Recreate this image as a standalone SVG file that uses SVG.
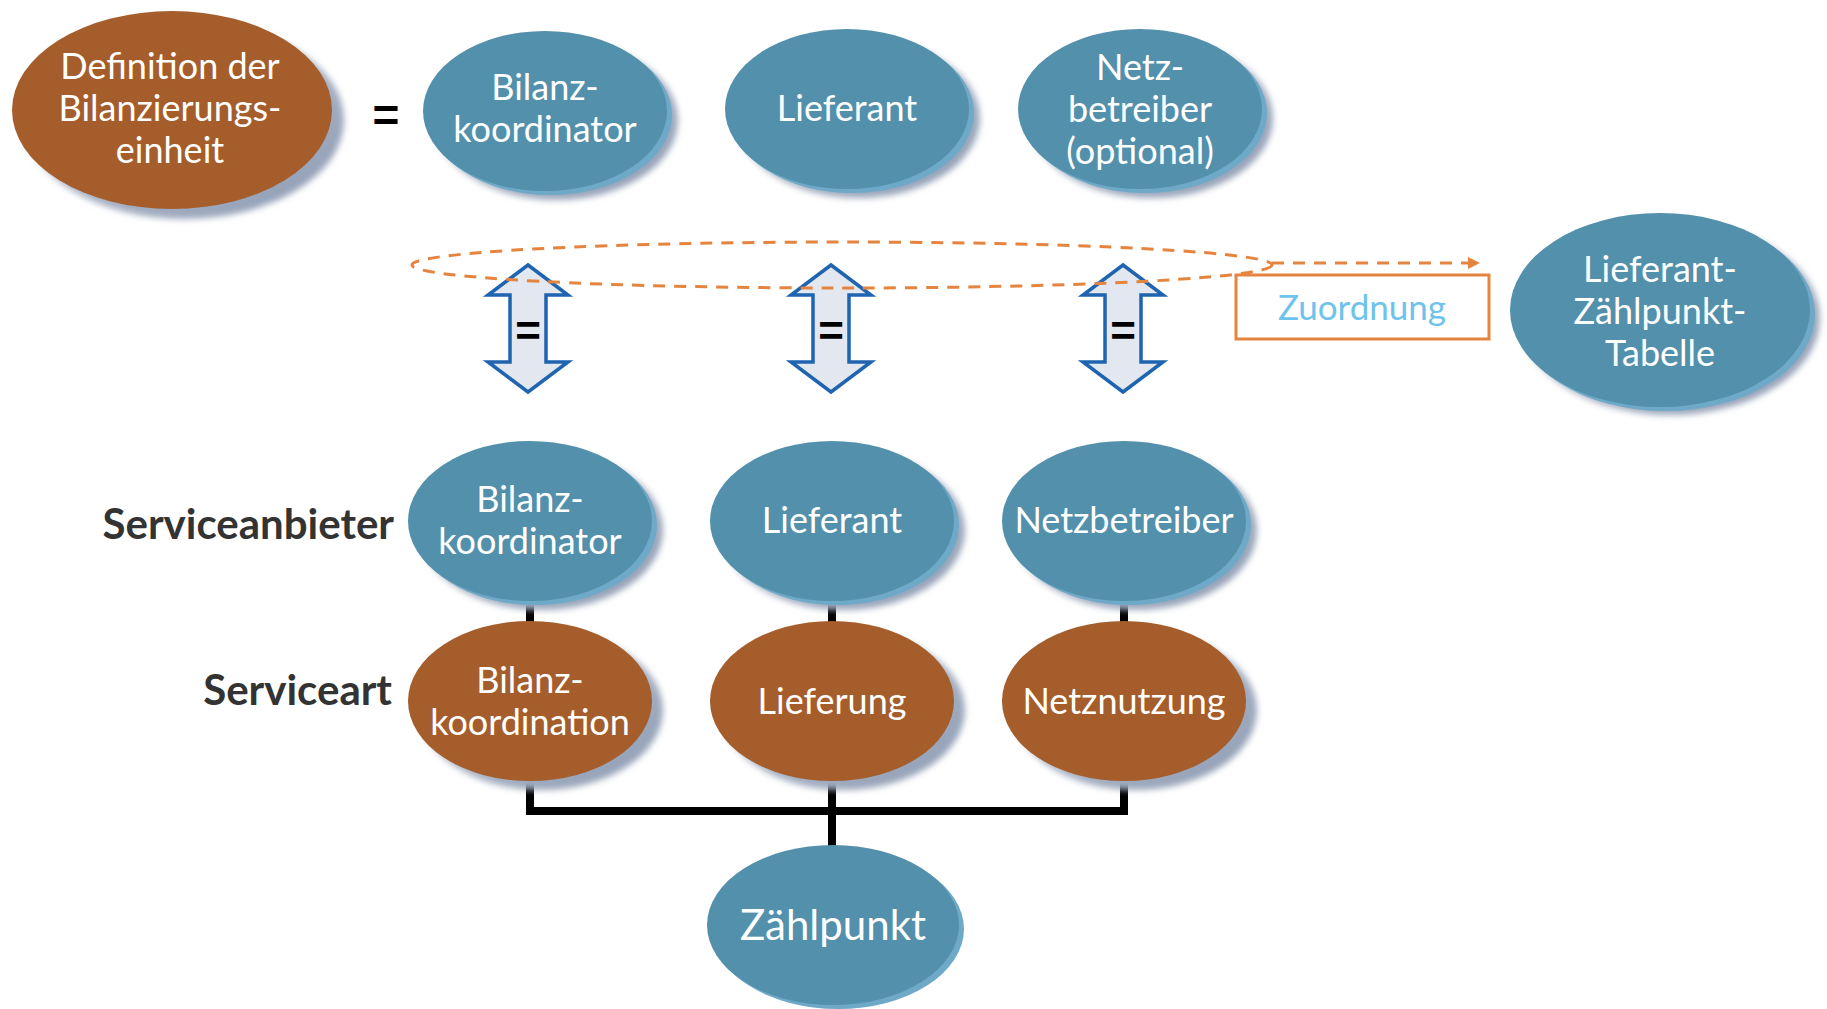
<svg xmlns="http://www.w3.org/2000/svg" width="1827" height="1009" viewBox="0 0 1827 1009">
<defs>
<style>
.t{font-family:Lato,"Noto Sans","Liberation Sans",sans-serif;font-size:36px;fill:#fff;text-anchor:middle}
.lbl{font-family:Lato,"Noto Sans","Liberation Sans",sans-serif;font-size:42px;font-weight:bold;fill:#333;text-anchor:end}
.blue{fill:#5390AC}
.brown{fill:#A45D2B}
.rimb{fill:#6FA9C8}
.sh{fill:url(#shg);filter:url(#blur)}
.dbl{fill:#E3E7F0;stroke:#1F64B0;stroke-width:3.5;stroke-linejoin:miter}
.eq{font-family:"Liberation Sans",Arial,sans-serif;font-weight:bold;font-size:44px;fill:#000;text-anchor:middle}
.con{fill:none;stroke:#000;stroke-width:8}
</style>
<linearGradient id="shg" x1="0" y1="0" x2="1" y2="1">
<stop offset="0" stop-color="#c9cdd6"/>
<stop offset="1" stop-color="#8d9bb3"/>
</linearGradient>
<filter id="blur" x="-10%" y="-10%" width="120%" height="120%"><feGaussianBlur stdDeviation="3"/></filter>
<marker id="ah" markerWidth="12" markerHeight="12" refX="10" refY="6" orient="auto" markerUnits="userSpaceOnUse">
<path d="M0,0 L12,6 L0,12 Z" fill="#E5843E"/>
</marker>
</defs>
<rect width="1827" height="1009" fill="#fff"/>

<g id="arrows">
<path class="dbl" d="M528,265 L568,295 L546,295 L546,362 L568,362 L528,392 L488,362 L510,362 L510,295 L488,295 Z"/>
<text class="eq" x="528" y="346">=</text>
<path class="dbl" d="M831,265 L871,295 L849,295 L849,362 L871,362 L831,392 L791,362 L813,362 L813,295 L791,295 Z"/>
<text class="eq" x="831" y="346">=</text>
<path class="dbl" d="M1123,265 L1163,295 L1141,295 L1141,362 L1163,362 L1123,392 L1083,362 L1105,362 L1105,295 L1083,295 Z"/>
<text class="eq" x="1123" y="346">=</text>
</g>

<g id="zuordnung">
<ellipse cx="842" cy="265" rx="430" ry="23" fill="none" stroke="#E5843E" stroke-width="3" stroke-dasharray="12 9"/>
<path d="M1272,263 H1478" fill="none" stroke="#E5843E" stroke-width="3" stroke-dasharray="12 9" marker-end="url(#ah)"/>
<rect x="1236" y="275" width="253" height="64" fill="#fff" stroke="#E5843E" stroke-width="3"/>
<text x="1362" y="320" style="font-family:Lato,'Noto Sans',sans-serif;font-size:35px;fill:#6EC3EC;text-anchor:middle">Zuordnung</text>
</g>

<text x="386" y="131" style="font-family:'Liberation Sans',Arial,sans-serif;font-size:46px;font-weight:bold;text-anchor:middle;fill:#000">=</text>

<g id="def">
<ellipse class="sh" cx="184" cy="120" rx="160" ry="99"/>
<ellipse class="brown" cx="172" cy="110" rx="160" ry="99"/>
<text class="t" x="170" y="79">Definition der</text>
<text class="t" x="170" y="121">Bilanzierungs-</text>
<text class="t" x="170" y="163">einheit</text>
</g>

<g id="top_bk">
<ellipse class="sh" cx="556" cy="120" rx="122" ry="80"/>
<ellipse class="rimb" cx="550" cy="115" rx="122" ry="80"/>
<ellipse class="blue" cx="545" cy="111" rx="122" ry="80"/>
<text class="t" x="545" y="100">Bilanz-</text>
<text class="t" x="545" y="142">koordinator</text>
</g>

<g id="top_lf">
<ellipse class="sh" cx="858" cy="118" rx="122" ry="80"/>
<ellipse class="rimb" cx="852" cy="113" rx="122" ry="80"/>
<ellipse class="blue" cx="847" cy="109" rx="122" ry="80"/>
<text class="t" x="847" y="121">Lieferant</text>
</g>

<g id="top_nb">
<ellipse class="sh" cx="1151" cy="118" rx="122" ry="80"/>
<ellipse class="rimb" cx="1145" cy="113" rx="122" ry="80"/>
<ellipse class="blue" cx="1140" cy="109" rx="122" ry="80"/>
<text class="t" x="1140" y="80">Netz-</text>
<text class="t" x="1140" y="122">betreiber</text>
<text class="t" x="1140" y="164">(optional)</text>
</g>

<g id="tabelle">
<ellipse class="sh" cx="1670" cy="318" rx="150" ry="97"/>
<ellipse class="rimb" cx="1665" cy="314" rx="150" ry="97"/>
<ellipse class="blue" cx="1660" cy="310" rx="150" ry="97"/>
<text class="t" x="1660" y="282">Lieferant-</text>
<text class="t" x="1660" y="324">Zählpunkt-</text>
<text class="t" x="1660" y="366">Tabelle</text>
</g>

<g id="connectors">
<path class="con" d="M530,598 V624 M832,598 V624 M1124,598 V624"/>
<path class="con" d="M530,778 V811 H1124 V778 M832,778 V848"/>
</g>

<text class="lbl" x="394" y="539">Serviceanbieter</text>
<text class="lbl" x="392" y="705">Serviceart</text>

<g id="sa_bk">
<ellipse class="sh" cx="541" cy="530" rx="122" ry="80"/>
<ellipse class="rimb" cx="535" cy="525" rx="122" ry="80"/>
<ellipse class="blue" cx="530" cy="521" rx="122" ry="80"/>
<text class="t" x="530" y="512">Bilanz-</text>
<text class="t" x="530" y="554">koordinator</text>
</g>
<g id="sa_lf">
<ellipse class="sh" cx="843" cy="530" rx="122" ry="80"/>
<ellipse class="rimb" cx="837" cy="525" rx="122" ry="80"/>
<ellipse class="blue" cx="832" cy="521" rx="122" ry="80"/>
<text class="t" x="832" y="533">Lieferant</text>
</g>
<g id="sa_nb">
<ellipse class="sh" cx="1135" cy="530" rx="122" ry="80"/>
<ellipse class="rimb" cx="1129" cy="525" rx="122" ry="80"/>
<ellipse class="blue" cx="1124" cy="521" rx="122" ry="80"/>
<text class="t" x="1124" y="533">Netzbetreiber</text>
</g>

<g id="st_bk">
<ellipse class="sh" cx="541" cy="710" rx="122" ry="80"/>
<ellipse class="brown" cx="530" cy="701" rx="122" ry="80"/>
<text class="t" x="530" y="693">Bilanz-</text>
<text class="t" x="530" y="735">koordination</text>
</g>
<g id="st_lf">
<ellipse class="sh" cx="843" cy="710" rx="122" ry="80"/>
<ellipse class="brown" cx="832" cy="701" rx="122" ry="80"/>
<text class="t" x="832" y="714">Lieferung</text>
</g>
<g id="st_nb">
<ellipse class="sh" cx="1135" cy="710" rx="122" ry="80"/>
<ellipse class="brown" cx="1124" cy="701" rx="122" ry="80"/>
<text class="t" x="1124" y="714">Netznutzung</text>
</g>

<g id="zp">
<ellipse class="rimb" cx="838" cy="929" rx="126" ry="80"/>
<ellipse class="blue" cx="833" cy="925" rx="126" ry="80"/>
<text class="t" x="833" y="940" style="font-size:42px">Zählpunkt</text>
</g>
</svg>
